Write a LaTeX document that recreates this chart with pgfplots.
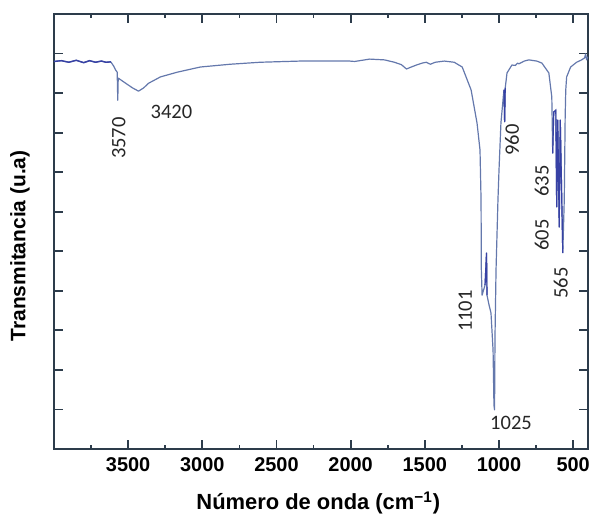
\documentclass[border=0pt]{standalone}
\usepackage{fontspec}
\setmainfont{Liberation Sans}
\newfontfamily\calib{Carlito}
\usepackage{pgfplots}
\pgfplotsset{compat=1.18}
\definecolor{spec}{RGB}{100,120,172}
\definecolor{specdark}{RGB}{55,65,165}
\definecolor{axcol}{RGB}{45,60,75}
\begin{document}
\begin{tikzpicture}
\begin{axis}[
  scale only axis, width=267bp, height=217.5bp,
  x dir=reverse, xmin=400, xmax=4000, ymin=0, ymax=11,
  xtick={500,1000,...,3500}, minor xtick={750,1250,...,3750},
  ytick={0,1,...,11}, yticklabels={},
  tick align=inside, major tick length=4.5bp, minor tick length=2.2bp,
  every tick/.style={axcol, line width=0.9bp},
  axis line style={axcol, line width=1bp},
  /pgf/number format/assume math mode=true,
  /pgf/number format/1000 sep={},
  xticklabel style={font=\fontsize{10}{12}\selectfont\bfseries, text=black, inner sep=1pt, yshift=-3bp},
  xlabel={Número de onda (cm\textsuperscript{−1})},
  ylabel={Transmitancia (u.a)},
  xlabel style={font=\fontsize{11}{13}\selectfont\bfseries, at={(rel axis cs:0.495,-0.124)}, anchor=center},
  ylabel style={font=\fontsize{10.5}{12}\selectfont\bfseries, at={(rel axis cs:-0.0637,0.467)}, anchor=center},
  clip=false,
]
% spectrum
\addplot[spec, line width=0.6bp, line join=round] coordinates {
(4000,9.80) (3950,9.82) (3900,9.78) (3850,9.83) (3800,9.77) (3760,9.82)
(3720,9.78) (3680,9.81) (3650,9.78) (3617,9.79) (3597,9.68) (3584,9.58)
(3574,9.53) (3570,8.82) (3567,9.38) (3517,9.25) (3470,9.13) (3430,9.05)
(3396,9.13) (3362,9.25) (3282,9.41) (3168,9.53) (3013,9.66)
(2812,9.73) (2611,9.78) (2342,9.81) (2007,9.81) (1973,9.80) (1872,9.86)
(1772,9.84) (1705,9.78) (1658,9.72) (1624,9.61) (1591,9.66) (1557,9.71)
(1517,9.76) (1490,9.78) (1463,9.73) (1430,9.78) (1369,9.81) (1302,9.78)
(1248,9.66) (1188,9.08) (1148,8.24) (1128,7.56) (1121,6.30) (1119,4.53)
(1114,3.89) (1094,4.15) (1084,4.96) (1081,3.89) (1067,3.64) (1054,3.44)
(1040,2.50) (1034,1.11) (1030,0.99) (1027,2.83) (1020,4.53) (1007,6.30)
(1000,7.05) (987,8.24) (970,8.95) (966,9.08) (962,8.27) (958,9.13)
(946,9.51) (913,9.71) (890,9.70) (875,9.76) (866,9.74) (830,9.81)
(799,9.84) (745,9.81) (711,9.76) (664,9.51) (644,8.90) (638,7.48)
(631,8.52) (617,8.57) (611,6.12) (604,8.32) (594,5.61) (587,8.32)
(570,4.96) (560,6.30) (554,8.39) (550,9.08) (544,9.41) (517,9.66)
(477,9.78) (443,9.84) (423,9.89) (416,9.99) (409,9.84) (402,9.92)
};
% darker strokes
\addplot[specdark, line width=0.7bp] coordinates {
(4000,9.80) (3950,9.82) (3900,9.78) (3850,9.83) (3800,9.77) (3760,9.82)
(3720,9.78) (3680,9.81) (3650,9.78) (3617,9.79)
};
\addplot[specdark, line width=0.6bp] coordinates {
(966,9.08) (962,8.27) (958,9.13)
};
\addplot[specdark, line width=0.6bp] coordinates {
(1094,4.15) (1084,4.96) (1081,3.89)
};
\addplot[specdark, line width=0.6bp] coordinates {
(638,7.48) (631,8.52) (617,8.57) (611,6.12) (604,8.32) (594,5.61) (587,8.32) (570,4.96)
};
\node[font=\calib\fontsize{10.3}{12}\selectfont, rotate=90, text=black!85] at (axis cs:3564,7.86) {3570};
\node[font=\calib\fontsize{10.3}{12}\selectfont, text=black!85] at (axis cs:3208,8.52) {3420};
\node[font=\calib\fontsize{10.3}{12}\selectfont, rotate=90, text=black!85] at (axis cs:913,7.81) {960};
\node[font=\calib\fontsize{10.3}{12}\selectfont, rotate=90, text=black!85] at (axis cs:711,6.78) {635};
\node[font=\calib\fontsize{10.3}{12}\selectfont, rotate=90, text=black!85] at (axis cs:711,5.41) {605};
\node[font=\calib\fontsize{10.3}{12}\selectfont, rotate=90, text=black!85] at (axis cs:584,4.20) {565};
\node[font=\calib\fontsize{10.3}{12}\selectfont, rotate=90, text=black!85] at (axis cs:1228,3.49) {1101};
\node[font=\calib\fontsize{10.3}{12}\selectfont, text=black!85] at (axis cs:919,0.66) {1025};
\coordinate (bl) at (rel axis cs:-0.1011,-0.1494);
\coordinate (tr) at (rel axis cs:1.0056,1.0322);
\end{axis}
\pgfresetboundingbox
\path[use as bounding box] (bl) rectangle (tr);
\end{tikzpicture}
\end{document}
